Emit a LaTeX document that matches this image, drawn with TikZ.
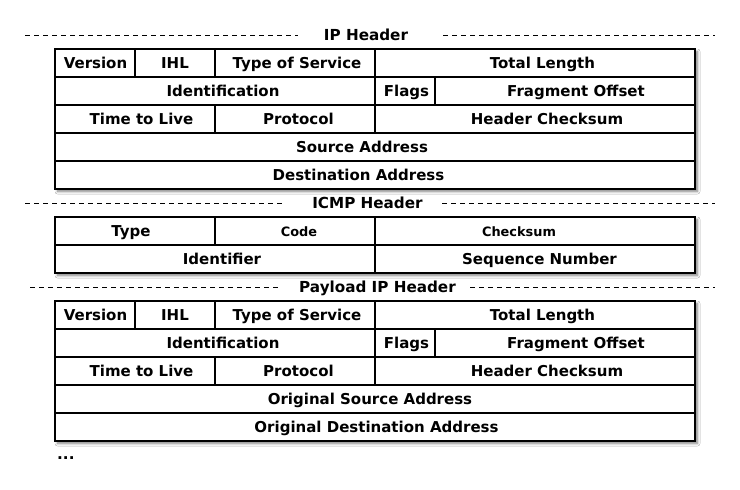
\documentclass[tikz,border=0pt]{standalone}
\usepackage{fontspec}
\setmainfont{DejaVu Sans}
\usetikzlibrary{shadows.blur}

\tikzset{
  cell/.style={draw=black, line width=1.2pt, inner sep=0pt, minimum height=28pt},
  txt/.style={inner sep=0pt, text height=11.5pt, text depth=1pt,
    font=\bfseries\fontsize{15}{17}\selectfont},
  smalltext/.style={font=\bfseries\fontsize{12.9}{14}\selectfont},
  frame/.style={fill=white, inner sep=0pt,
    blur shadow={shadow xshift=2.5pt, shadow yshift=-2.5pt,
      shadow blur radius=2.5pt, shadow blur steps=6, shadow opacity=50}},
  title/.style={anchor=base, inner sep=0pt,
    font=\bfseries\fontsize{15.2}{17}\selectfont},
  rule/.style={line width=1pt, dash pattern=on 5pt off 4pt}
}

\begin{document}
\begin{tikzpicture}[x=1pt, y=-1pt]
  \path[fill=white] (0,0) rectangle (740,490);
  \useasboundingbox (0,0) rectangle (740,490);

  % ---------- IP header ----------
  \node[title] (tip) at (366,40) {IP Header};
  \coordinate (tipL) at (25,35);
  \coordinate (tipR) at (715,35);
  \draw[rule] (tipL) -- (298,35);
  \draw[rule] (443,35) -- (tipR);

  \node[frame, minimum width=640pt, minimum height=140pt] (ipframe) at (375,119) {};
  \node[cell, minimum width=80pt]  (ipver)  at (95,63)  {};
  \node[cell, minimum width=80pt]  (ipihl)  at (175,63) {};
  \node[cell, minimum width=160pt] (iptos)  at (295,63) {};
  \node[cell, minimum width=320pt] (iplen)  at (535,63) {};
  \node[cell, minimum width=320pt] (ipid)   at (215,91) {};
  \node[cell, minimum width=60pt]  (ipflg)  at (405,91) {};
  \node[cell, minimum width=260pt] (ipfrag) at (565,91) {};
  \node[cell, minimum width=160pt] (ipttl)  at (135,119) {};
  \node[cell, minimum width=160pt] (ipprot) at (295,119) {};
  \node[cell, minimum width=320pt] (ipsum)  at (535,119) {};
  \node[cell, minimum width=640pt] (ipsrc)  at (375,147) {};
  \node[cell, minimum width=640pt] (ipdst)  at (375,175) {};

  \node[txt] (ipver-t)  at (95.5,63)  {Version};
  \node[txt] (ipihl-t)  at (175,63)   {IHL};
  \node[txt] (iptos-t)  at (297,63)   {Type of Service};
  \node[txt] (iplen-t)  at (542.5,63) {Total Length};
  \node[txt] (ipid-t)   at (223,91)   {Identification};
  \node[txt] (ipflg-t)  at (406.5,91) {Flags};
  \node[txt] (ipfrag-t) at (576,91)   {Fragment Offset};
  \node[txt] (ipttl-t)  at (141.5,119) {Time to Live};
  \node[txt] (ipprot-t) at (298.5,119) {Protocol};
  \node[txt] (ipsum-t)  at (547,119)  {Header Checksum};
  \node[txt] (ipsrc-t)  at (362,147)  {Source Address};
  \node[txt] (ipdst-t)  at (358.5,175) {Destination Address};

  % ---------- ICMP header ----------
  \node[title] (ticmp) at (367.5,208) {ICMP Header};
  \coordinate (ticmpL) at (25,203);
  \coordinate (ticmpR) at (715,203);
  \draw[rule] (ticmpL) -- (283,203);
  \draw[rule] (442,203) -- (ticmpR);

  \node[frame, minimum width=640pt, minimum height=56pt] (icframe) at (375,245) {};
  \node[cell, minimum width=160pt] (ictype) at (135,231) {};
  \node[cell, minimum width=160pt] (iccode) at (295,231) {};
  \node[cell, minimum width=320pt] (icsum)  at (535,231) {};
  \node[cell, minimum width=320pt] (icid)   at (215,259) {};
  \node[cell, minimum width=320pt] (icseq)  at (535,259) {};

  \node[txt] (ictype-t) at (131,231)   {Type};
  \node[txt, smalltext] (iccode-t) at (299,231) {Code};
  \node[txt, smalltext] (icsum-t)  at (519,231) {Checksum};
  \node[txt] (icid-t)   at (222,259)   {Identifier};
  \node[txt] (icseq-t)  at (539.5,259) {Sequence Number};

  % ---------- Payload IP header ----------
  \node[title] (tpl) at (377.5,292) {Payload IP Header};
  \coordinate (tplL) at (30,287);
  \coordinate (tplR) at (715,287);
  \draw[rule] (tplL) -- (278,287);
  \draw[rule] (470,287) -- (tplR);

  \node[frame, minimum width=640pt, minimum height=140pt] (plframe) at (375,371) {};
  \node[cell, minimum width=80pt]  (plver)  at (95,315)  {};
  \node[cell, minimum width=80pt]  (plihl)  at (175,315) {};
  \node[cell, minimum width=160pt] (pltos)  at (295,315) {};
  \node[cell, minimum width=320pt] (pllen)  at (535,315) {};
  \node[cell, minimum width=320pt] (plid)   at (215,343) {};
  \node[cell, minimum width=60pt]  (plflg)  at (405,343) {};
  \node[cell, minimum width=260pt] (plfrag) at (565,343) {};
  \node[cell, minimum width=160pt] (plttl)  at (135,371) {};
  \node[cell, minimum width=160pt] (plprot) at (295,371) {};
  \node[cell, minimum width=320pt] (plsum)  at (535,371) {};
  \node[cell, minimum width=640pt] (plsrc)  at (375,399) {};
  \node[cell, minimum width=640pt] (pldst)  at (375,427) {};

  \node[txt] (plver-t)  at (95.5,315)  {Version};
  \node[txt] (plihl-t)  at (175,315)   {IHL};
  \node[txt] (pltos-t)  at (297,315)   {Type of Service};
  \node[txt] (pllen-t)  at (542.5,315) {Total Length};
  \node[txt] (plid-t)   at (223,343)   {Identification};
  \node[txt] (plflg-t)  at (406.5,343) {Flags};
  \node[txt] (plfrag-t) at (576,343)   {Fragment Offset};
  \node[txt] (plttl-t)  at (141.5,371) {Time to Live};
  \node[txt] (plprot-t) at (298.5,371) {Protocol};
  \node[txt] (plsum-t)  at (547,371)   {Header Checksum};
  \node[txt] (plsrc-t)  at (370,399)   {Original Source Address};
  \node[txt] (pldst-t)  at (376.5,427) {Original Destination Address};

  \node[title, anchor=base west] (more) at (57,459) {...};
\end{tikzpicture}
\end{document}
